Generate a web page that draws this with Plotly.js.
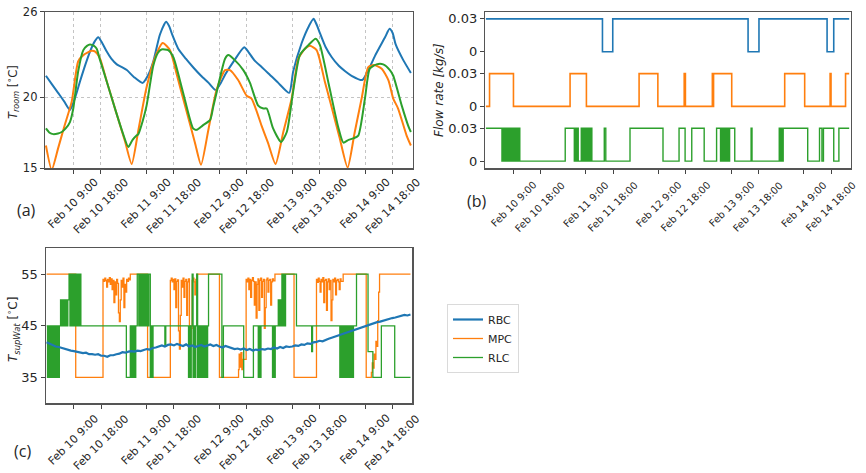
<!DOCTYPE html>
<html>
<head>
<meta charset="utf-8">
<script src="https://cdn.plot.ly/plotly-3.0.1.min.js"></script>
<style>html,body{margin:0;padding:0;background:#fff}#chart{width:866px;height:473px}</style>
</head>
<body>
<div id="chart"></div>
<script>
// ---------- data (hours since Feb 10 00:00) ----------
const tickHours = [9, 18, 33, 42, 57, 66, 81, 90, 105, 114];
const tickLabels = ['Feb 10 9:00','Feb 10 18:00','Feb 11 9:00','Feb 11 18:00','Feb 12 9:00','Feb 12 18:00','Feb 13 9:00','Feb 13 18:00','Feb 14 9:00','Feb 14 18:00'];
const seriesNames = ['RBC','MPC','RLC'];

// (a) room temperature
const rbcRoomH = [0,2,4,6,7.9,9.5,11.2,13,14.5,16,17.2,18.5,20,21.5,23.3,25,26.6,29,31.8,33.5,35.3,37.5,39.5,40.5,41.5,43.5,46,48.4,51,53.5,55.8,57.5,59,62,65.2,66.5,68.5,71,73,76.4,80,81.3,84.1,86.5,88,89,90.1,92,94,96.3,98.5,100.5,104,106,108.2,111.5,113,114,115,117.5,120];
const rbcRoomT = [21.5,20.9,20.3,19.7,19.1,19.9,21.1,22.3,23.2,23.9,24.2,23.8,23.2,22.7,22.3,22.1,21.9,21.4,21.0,21.5,22.5,24.4,25.3,25.0,24.4,23.4,22.7,22.1,21.5,21.0,20.5,21.0,21.6,22.6,23.5,23.2,22.6,22.1,21.7,21.0,20.3,21.8,23.8,25.0,25.5,25.1,24.5,23.5,22.8,22.2,21.8,21.5,21.2,21.9,22.9,24.2,24.8,24.5,23.7,22.6,21.7];
const mpcRoomH = [0,1.9,4,6,8.5,10.6,12.3,15,16.2,17.8,20,23,26,28.2,30.5,33.1,35.9,38.4,40.8,43,46,49,51,53.5,56.1,58.9,60.5,63.2,66,67.6,70.9,73,75.5,78,80.8,83,85.2,86.8,89,91.7,94,96.5,99.2,101.5,103.8,106,107.8,110.4,112.6,114.2,115.8,118.6,120];
const mpcRoomT = [16.6,14.9,16.4,17.9,19.7,22.5,22.95,23.25,23.2,22.7,21.1,19.0,16.9,15.3,17.8,20.7,22.8,23.8,23.3,21.6,19.2,16.8,15.25,17.8,20.5,21.9,21.9,21.2,20.1,19.9,18.0,16.8,15.3,17.5,19.9,22.7,23.4,23.6,23.3,21.1,19.25,17.2,15.05,17.5,19.9,22.1,22.25,22.0,21.2,19.9,19.2,17.3,16.6];
const rlcRoomH = [0,1.2,2.4,4,5.2,6.5,7.9,9,10.6,12.3,13.5,14.5,15.8,16.7,17.8,20,23,25.4,27.1,28.5,29.8,30.4,31.8,33.1,35.3,36.8,38,40.2,41.9,45,48.4,49.5,51.5,54,55,56.2,58.9,60,62.1,64.9,67.1,69.8,71.5,72.6,74.7,77.3,79.2,81.3,83.5,86.3,88.7,90.1,93,96.1,97.8,99.5,101.1,102.7,104.9,106.5,108.7,110.9,113.1,114.2,117,119.1,120];
const rlcRoomT = [17.8,17.5,17.4,17.45,17.55,17.8,18.25,19.2,21.8,23.3,23.6,23.7,23.6,23.4,22.6,21.1,19.0,17.4,16.5,17.0,17.3,17.4,18.3,19.4,22.2,23.1,23.35,23.3,22.8,20.4,17.8,17.7,18.0,18.4,19.3,20.4,22.7,22.95,22.6,21.9,21.0,19.4,19.2,19.2,17.8,16.85,17.55,20.4,22.95,23.65,24.1,23.65,20.9,17.9,16.8,17.0,17.1,17.3,19.9,22.0,22.3,22.3,21.9,21.5,19.4,18.0,17.55];

// (b) flow rate [kg/s] (step changes)
const rbcFlowH = [0,38.5,41.9,86.6,90.2,112.7,114.9,120];
const rbcFlowV = [0.03,0,0.03,0,0.03,0,0.03,0.03];
const mpcFlowH = [0,1.2,9.1,27.8,33.2,50.6,56.8,65.5,65.9,74.8,75.0,75.2,81.2,98.7,105.3,113.7,114.0,118.8,120];
const mpcFlowV = [0,0.03,0,0.03,0,0.03,0,0.03,0,0.03,0,0.03,0,0.03,0,0.03,0,0.03,0.03];
const rlcFlowH = [0,5.3,5.6,5.9,6.2,6.5,6.8,7.1,7.4,7.7,8.0,8.3,8.6,8.9,9.2,9.5,9.8,10.1,10.4,10.7,11.0,11.2,
  26.2,29.2,29.5,29.8,30.2,30.5,31.5,31.8,32.1,32.4,32.7,33.0,33.3,33.6,33.9,34.3,34.6,35.0,
  39.1,39.6,47.6,58.5,63.8,65.8,68.0,72.1,
  76.2,77.5,77.8,78.2,78.5,78.8,79.0,79.3,79.5,79.8,80.0,80.3,80.5,82.2,
  87.6,87.9,96.9,97.2,97.4,97.6,97.8,98.0,98.2,106.3,110.2,111.0,111.5,114.9,116.6,120];
const rlcFlowV = [0.03,0,0.03,0,0.03,0,0.03,0,0.03,0,0.03,0,0.03,0,0.03,0,0.03,0,0.03,0,0.03,0,
  0.03,0,0.03,0,0.03,0,0.03,0,0.03,0,0.03,0,0.03,0,0.03,0,0.03,0,
  0.03,0,0.03,0,0.03,0,0.03,0,
  0.03,0,0.03,0,0.03,0,0.03,0,0.03,0,0.03,0,0.03,0,
  0.03,0,0.03,0,0.03,0,0.03,0,0.03,0,0.03,0,0.03,0,0.03,0.03];

// (c) supply water temperature
const rbcSupT = [41.8,41.5,41.3,41.0,40.9,40.7,40.6,40.3,40.2,40.1,40.0,39.8,39.7,39.8,39.5,39.5,39.4,39.5,39.2,39.2,
  39.0,39.3,39.3,39.5,39.6,39.9,39.8,40.0,40.1,40.0,40.2,40.1,40.3,40.5,40.4,40.7,40.8,41.0,
  41.2,41.0,41.3,41.4,41.2,41.5,41.3,41.1,41.4,41.0,41.2,40.9,41.1,41.3,41.0,41.2,41.4,41.1,41.3,41.0,40.8,41.1,40.9,
  40.7,40.5,40.6,40.4,40.6,40.3,40.5,40.2,40.4,40.3,40.5,40.4,40.6,40.5,40.8,40.6,40.9,40.7,41.0,40.9,
  41.0,41.2,41.1,41.4,41.3,41.6,41.5,41.8,41.9,42.1,42.0,42.3,42.5,42.7,42.9,43.2,43.4,43.6,43.8,44.0,44.2,44.4,44.5,44.7,45.0,45.1,45.3,45.5,45.7,45.8,46.0,46.2,46.3,46.5,46.6,46.8,46.9,47.1,47.0,47.2];
const rbcSupH = rbcSupT.map((v, i) => i);
const mpcSupH = [0,9.6,18.6,18.9,19.2,19.5,19.8,20.1,20.4,20.7,21.0,21.3,21.6,21.9,22.2,22.5,22.8,23.1,23.4,23.7,24.0,24.3,24.6,24.9,25.2,25.5,25.8,26.1,26.4,26.7,27.0,27.3,27.6,
  33.3,40.8,41.1,41.4,41.7,42.0,42.3,42.6,42.9,43.2,43.5,43.8,44.1,44.4,44.7,45.0,45.3,45.6,45.9,46.2,46.5,46.8,47.1,47.4,47.7,48.0,48.3,48.6,48.9,49.2,49.6,
  57.0,63.3,63.5,63.8,64.1,64.4,64.7,
  65.8,66.1,66.4,66.7,67.0,67.3,67.6,67.9,68.2,68.5,68.8,69.1,69.4,69.7,70.0,70.3,70.6,70.9,71.2,71.5,71.8,72.1,72.4,72.7,73.0,73.3,73.6,73.9,74.2,74.5,74.8,75.3,
  81.6,89.0,89.3,89.6,89.9,90.2,90.5,90.8,91.1,91.4,91.7,92.0,92.3,92.6,92.9,93.2,93.5,93.8,94.1,94.4,94.7,95.0,95.3,95.6,95.9,96.2,96.5,96.8,97.1,97.8,
  105.4,107.1,107.4,107.7,108.0,108.3,108.6,108.9,109.2,109.5,109.8,120];
const mpcSupT = [55,35,54.0,53.6,54.2,53.8,52.5,54.0,53.5,54.3,53.0,54.1,52.0,53.8,49.5,53.5,51.0,54.0,53.2,47.5,45.8,50.0,53.8,52.5,54.2,48.5,53.0,51.5,54.0,53.6,54.2,53.9,55,
  35,53.8,54.2,53.5,54.0,52.0,54.1,48.5,53.6,53.9,44.0,40.5,47.0,53.8,52.5,54.2,50.5,53.6,54.0,47.0,53.5,54.1,45.0,41.0,44.5,53.8,54.2,53.5,51.0,54.0,55,
  35,36.5,39.5,37.0,39.8,36.5,38.5,
  54.0,53.5,54.2,52.0,54.0,50.5,53.8,54.3,53.6,49.0,53.5,46.5,53.0,54.1,48.0,53.8,54.2,50.5,53.6,54.0,44.5,48.5,53.9,54.2,51.5,53.8,54.0,49.0,53.5,54.1,53.7,55,
  35,54.0,53.4,54.2,53.6,51.5,54.0,53.5,54.3,49.5,53.8,54.0,48.0,53.5,54.1,52.0,53.8,46.0,50.0,54.0,53.5,54.2,51.0,53.8,54.0,53.5,52.0,54.1,53.6,55,
  35,36.0,37.8,36.8,39.5,38.5,42.0,41.0,46.0,51.5,55,55];
const rlcSupH = [0,0.3,0.6,0.9,1.2,1.5,1.8,2.1,2.4,2.7,3.0,3.3,3.6,3.9,4.2,
  4.6,4.9,5.2,5.5,5.8,6.1,6.4,6.7,7.0,
  7.4,7.7,8.0,8.3,8.6,8.9,9.2,9.5,9.8,10.1,10.4,10.7,11.0,11.3,
  26.3,27.6,27.9,28.2,28.5,28.8,29.1,29.4,
  29.9,30.4,30.7,31.0,31.3,31.6,31.9,32.2,32.5,32.8,33.1,33.4,33.7,
  34.2,34.5,34.8,35.1,39.0,39.3,
  46.8,47.1,47.4,47.7,48.0,48.3,48.6,48.9,49.2,49.5,49.8,50.1,50.4,50.7,51.0,51.3,51.6,51.9,52.2,52.5,52.8,53.1,
  53.4,57.8,58.3,65.0,68.2,69.8,70.1,70.4,70.7,
  74.5,74.8,75.1,75.4,76.4,76.7,77.0,77.3,77.6,77.9,78.2,78.5,78.8,82.4,87.4,87.7,
  96.7,97.0,97.3,97.6,97.9,98.2,98.5,98.8,99.1,99.4,99.7,100.0,100.3,100.6,100.9,101.2,
  102.2,106.0,107.6,110.4,114.8,120];
const rlcSupT = [45,35,45,35,45,35,45,35,45,35,45,35,45,35,45,
  50,45,50,45,50,45,50,45,50,
  55,45,55,45,55,45,55,45,55,45,55,45,55,45,
  35,45,35,45,35,45,35,45,
  55,45,55,45,55,45,55,45,55,45,55,45,55,
  35,45,35,45,41,45,
  35,45,35,45,55,35,45,35,45,55,35,45,35,45,35,45,35,45,35,45,35,45,
  55,35,45,35,45,35,45,35,45,
  35,45,35,45,50,45,50,45,55,45,55,45,55,45,40,45,
  35,45,35,45,35,45,35,45,35,45,35,45,35,45,35,45,
  55,40,35,45,35,35];

// ---------- helpers ----------
function pad(n){ return (n < 10 ? '0' : '') + n; }
function hd(h){
  const m = Math.round(h * 60);
  const d = 10 + Math.floor(m / 1440);
  const r = ((m % 1440) + 1440) % 1440;
  return '2020-02-' + pad(d) + ' ' + pad(Math.floor(r / 60)) + ':' + pad(r % 60);
}
const colors = ['#1f77b4', '#ff7f0e', '#2ca02c'];
const FONT = 'DejaVu Sans, sans-serif';
const TXT = '#262626';
const xRange = [hd(-0.3), hd(120.6)];
const tickVals = tickHours.map(hd);
const offsets = [0.10, 0.05, 0];

function line(h, v, i, xa, ya, w, shape, extra) {
  return Object.assign({
    type: 'scatter', mode: 'lines', x: h.map(hd), y: v,
    xaxis: xa, yaxis: ya, name: seriesNames[i], legendgroup: seriesNames[i],
    showlegend: false, hoverinfo: 'skip',
    line: {color: colors[i], width: w, shape: shape, smoothing: 0.6}
  }, extra || {});
}

const traces = [
  line(rbcRoomH, rbcRoomT, 0, 'x', 'y', 2, 'spline'),
  line(mpcRoomH, mpcRoomT, 1, 'x', 'y', 2, 'spline'),
  line(rlcRoomH, rlcRoomT, 2, 'x', 'y', 2, 'spline'),
  line(rbcFlowH, rbcFlowV.map(v => v + offsets[0]), 0, 'x2', 'y2', 1.6, 'hv'),
  line(mpcFlowH, mpcFlowV.map(v => v + offsets[1]), 1, 'x2', 'y2', 1.6, 'hv'),
  line(rlcFlowH, rlcFlowV.map(v => v + offsets[2]), 2, 'x2', 'y2', 1.4, 'hv'),
  line(mpcSupH, mpcSupT, 1, 'x3', 'y3', 1.3, 'hv', {showlegend: true, legendrank: 2}),
  line(rlcSupH, rlcSupT, 2, 'x3', 'y3', 1.3, 'hv', {showlegend: true, legendrank: 3}),
  line(rbcSupH, rbcSupT, 0, 'x3', 'y3', 2.2, 'linear', {showlegend: true, legendrank: 1})
];

const W = 866, H = 473;
const px = v => v / W, py = v => 1 - v / H;

function xaxis(domain, grid) {
  return {
    type: 'date', domain: domain, range: xRange, anchor: null,
    tickmode: 'array', tickvals: tickVals, showticklabels: false,
    ticks: 'outside', ticklen: 4, tickwidth: 1, tickcolor: '#444',
    showline: true, mirror: true, linecolor: '#555', linewidth: 1.2,
    showgrid: grid, gridcolor: '#c4c4c4', griddash: 'dot', gridwidth: 1,
    zeroline: false, fixedrange: true
  };
}
function yaxis(domain, range, vals, texts, size, grid) {
  return {
    domain: domain, range: range, tickmode: 'array', tickvals: vals, ticktext: texts,
    ticks: 'outside', ticklen: 4, tickwidth: 1, tickcolor: '#444',
    tickfont: {family: FONT, size: size, color: TXT},
    showline: true, mirror: true, linecolor: '#555', linewidth: 1.2,
    showgrid: grid, gridcolor: '#c4c4c4', griddash: 'dot', gridwidth: 1,
    zeroline: false, fixedrange: true, automargin: false
  };
}

const xa = xaxis([px(45), px(412.7)], true); xa.anchor = 'y';
const xb = xaxis([px(485), px(851)], false); xb.anchor = 'y2';
const xc = xaxis([px(45.7), px(412.3)], false); xc.anchor = 'y3';

const annotations = [];
function tickAnn(xref, yTop, size) {
  tickVals.forEach((v, i) => annotations.push({
    x: v, xref: xref, y: py(yTop), yref: 'paper', text: tickLabels[i],
    showarrow: false, textangle: -45, xanchor: 'center', yanchor: 'top',
    font: {family: FONT, size: size, color: TXT}, borderpad: 0
  }));
}
tickAnn('x', 175, 11);
tickAnn('x2', 178, 10);
tickAnn('x3', 411, 11);

function text(x, y, t, size, angle, fam) {
  annotations.push({x: px(x), y: py(y), xref: 'paper', yref: 'paper', text: t, showarrow: false,
    textangle: angle || 0, xanchor: 'center', yanchor: 'middle',
    font: {family: fam || FONT, size: size, color: TXT}});
}
text(13, 92, '<i>T</i><sub><i>room</i></sub> [<sup>∘</sup>C]', 11.5, -90);
text(439, 90, '<i>Flow rate [kg/s]</i>', 12, -90);
text(13, 330, '<i>T</i><sub><i>supWat</i></sub> [<sup>∘</sup>C]', 12, -90);
text(26, 210, '(a)', 16, 0, 'Open Sans, sans-serif');
text(477, 201, '(b)', 16, 0, 'Open Sans, sans-serif');
text(22, 451, '(c)', 16, 0, 'Open Sans, sans-serif');

const layout = {
  width: W, height: H, margin: {l: 0, r: 0, t: 0, b: 0},
  paper_bgcolor: '#fff', plot_bgcolor: '#fff',
  font: {family: FONT, color: TXT},
  xaxis: xa, xaxis2: xb, xaxis3: xc,
  yaxis: yaxis([py(168.3), py(11.7)], [15, 26], [15, 20, 26], ['15', '20', '26'], 11.5, true),
  yaxis2: yaxis([py(168.3), py(11.7)], [-0.0066, 0.1366], [0, 0.03, 0.05, 0.08, 0.10, 0.13], ['0', '0.03', '0', '0.03', '0', '0.03'], 13, false),
  yaxis3: yaxis([py(403.3), py(248.3)], [30, 60], [35, 45, 55], ['35', '45', '55'], 13, false),
  showlegend: true,
  legend: {x: px(447), y: py(304), xanchor: 'left', yanchor: 'top',
    bgcolor: '#fff', bordercolor: '#dadada', borderwidth: 1,
    font: {family: FONT, size: 11, color: TXT}, traceorder: 'normal', itemwidth: 30},
  annotations: annotations
};
layout.yaxis.anchor = 'x'; layout.yaxis2.anchor = 'x2'; layout.yaxis3.anchor = 'x3';

Plotly.newPlot('chart', traces, layout, {staticPlot: true, displayModeBar: false});
</script>
</body>
</html>
